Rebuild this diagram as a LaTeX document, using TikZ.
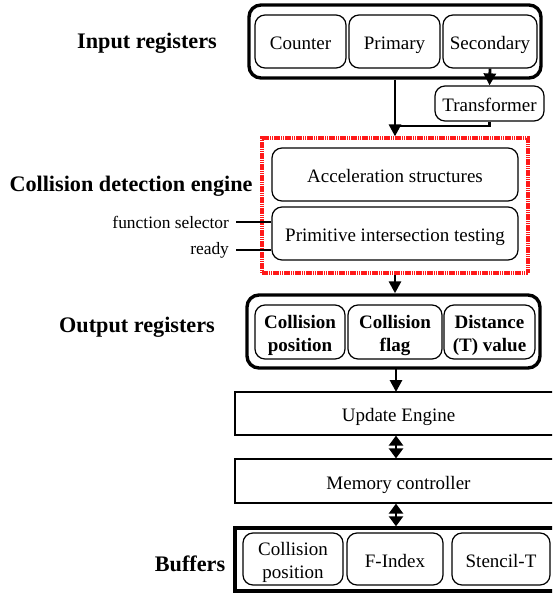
\documentclass[tikz,border=0pt]{standalone}
\usepackage{fontspec}
\setmainfont{Liberation Serif}
\usetikzlibrary{arrows.meta}
\begin{document}
\begin{tikzpicture}[x=0.5pt, y=-0.5pt,
  unit/.style={draw, rounded corners=5pt, line width=0.6pt, inner sep=0pt,
    align=center, font=\fontsize{9.5}{11.5}\selectfont},
  oneline/.style={text height=2ex, text depth=0.2ex},
  twoline/.style={text height=19pt, text depth=0pt},
  bunit/.style={unit, twoline, font=\fontsize{9.5}{11.5}\selectfont\bfseries},
  plain/.style={draw, line width=0.6pt, inner sep=0pt, oneline, font=\fontsize{9.5}{11.5}\selectfont},
  group/.style={draw, line width=1.7pt, rounded corners=6pt, inner sep=0pt},
  title/.style={font=\fontsize{11.1}{13}\selectfont\bfseries},
  flow/.style={line width=1.4pt, -{Triangle[length=6pt,width=6pt]}},
  both/.style={line width=1.4pt, {Triangle[length=5pt,width=7pt]}-{Triangle[length=5pt,width=7pt]}}]
  \useasboundingbox (0,0) rectangle (552,594);
  \clip (0,0) rectangle (552,594);
  % input registers
  \node[group, minimum width=146pt, minimum height=36.5pt] (inregs) at (395,41.5) {};
  \node[unit, oneline, minimum width=45.5pt, minimum height=26.5pt] (counter) at (300.5,41.5) {Counter};
  \node[unit, oneline, minimum width=45.5pt, minimum height=26.5pt] (primary) at (394.5,41.5) {Primary};
  \node[unit, oneline, minimum width=47pt, minimum height=26.5pt] (secondary) at (490,41.5) {Secondary};
  \node[unit, oneline, minimum width=54.5pt, minimum height=17.5pt] (trans) at (489.5,103.5) {Transformer};
  \node[title] (lin) at (147,43) {Input registers};
  % collision detection engine
  \node[draw=red!90!white, line width=1.6pt, dash pattern=on 0.8pt off 0.3pt,
    minimum width=133pt, minimum height=67.5pt, inner sep=0pt] (engine) at (395,205.5) {};
  \node[unit, oneline, minimum width=123pt, minimum height=26.5pt] (accel) at (395,174.5) {Acceleration structures};
  \node[unit, oneline, minimum width=123pt, minimum height=26.5pt] (prim) at (395,233.5) {Primitive intersection testing};
  \node[title] (lengine) at (131,186) {Collision detection engine};
  \node[anchor=east, font=\fontsize{8.7}{10}\selectfont] (fsel) at (236,222) {function selector};
  \node[anchor=east, font=\fontsize{8.7}{10}\selectfont] (ready) at (236,250) {ready};
  % output registers
  \node[group, minimum width=146.5pt, minimum height=36.5pt] (outregs) at (393.5,331.5) {};
  \node[bunit, minimum width=45pt, minimum height=27pt] (colpos) at (300,332) {Collision\\position};
  \node[bunit, minimum width=47pt, minimum height=27pt] (colflag) at (395,332) {Collision\\flag};
  \node[bunit, minimum width=45.5pt, minimum height=27pt] (dist) at (489.5,332) {Distance\\(T) value};
  \node[title] (lout) at (137,327) {Output registers};
  % update engine, memory, buffers
  \node[plain, minimum width=163.5pt, minimum height=21.5pt] (update) at (398.5,413.5) {Update Engine};
  \node[plain, minimum width=163.5pt, minimum height=22pt] (memctrl) at (398.5,481) {Memory controller};
  \node[draw, line width=1.7pt, inner sep=0pt, minimum width=163.5pt, minimum height=31.5pt] (buffers) at (398.5,559.5) {};
  \node[unit, twoline, minimum width=50pt, minimum height=26pt] (bcolpos) at (293,559) {Collision\\position};
  \node[unit, oneline, minimum width=48pt, minimum height=26pt] (findex) at (395,559) {F-Index};
  \node[unit, oneline, minimum width=49pt, minimum height=26pt] (stencil) at (501,559) {Stencil-T};
  \node[title] (lbuf) at (190,564) {Buffers};
  % connectors
  \coordinate (join) at (395,126);
  \draw[flow] (secondary.south) -- (trans.north);
  \draw[line width=1.4pt] (trans.south) |- (join);
  \draw[flow] (inregs.south) -- (engine.north);
  \draw[flow] (engine.south) -- (engine.south |- outregs.north);
  \draw[flow] (396,368) -- (396,392);
  \draw[both] (update.south -| 396,0) -- (memctrl.north -| 396,0);
  \draw[both] (memctrl.south -| 396,0) -- (buffers.north -| 396,0);
  \draw[line width=0.6pt] (fsel.east) -- (fsel.east -| prim.west);
  \draw[line width=0.6pt] (ready.east) -- (ready.east -| prim.west);
\end{tikzpicture}
\end{document}
